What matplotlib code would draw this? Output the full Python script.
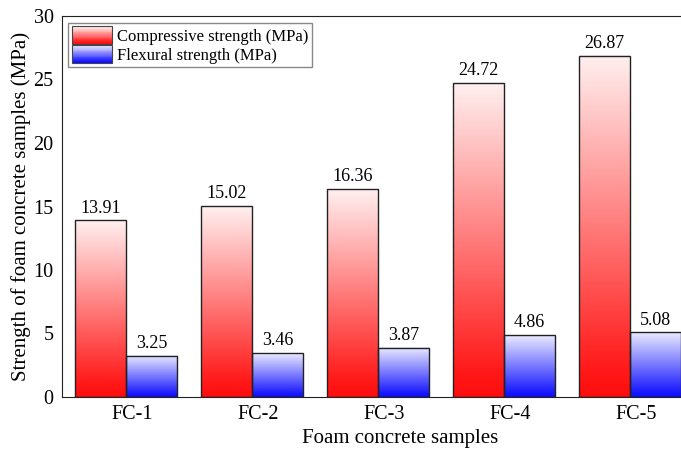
import numpy as np
import matplotlib
matplotlib.use("Agg")
import matplotlib.pyplot as plt
from matplotlib.patches import Rectangle
from matplotlib.legend_handler import HandlerBase
from matplotlib.colors import LinearSegmentedColormap

samples = ["FC-1", "FC-2", "FC-3", "FC-4", "FC-5"]
compressive = [13.91, 15.02, 16.36, 24.72, 26.87]
flexural = [3.25, 3.46, 3.87, 4.86, 5.08]

plt.rcParams['font.family'] = ['Liberation Serif', 'DejaVu Serif']

red_cmap = LinearSegmentedColormap.from_list(
    "r", [(0, (1, 0.05, 0.05)), (0.08, (1, 0.1, 0.1)), (1, (1, 0.94, 0.94))])
blue_cmap = LinearSegmentedColormap.from_list(
    "b", [(0, (0.05, 0.05, 1)), (0.08, (0.1, 0.1, 1)), (1, (0.92, 0.92, 1))])

fig = plt.figure(figsize=(6.81, 4.49), dpi=100)
ax = fig.add_axes([62 / 681, 52 / 449, (693 - 62) / 681, (397 - 16) / 449])

w = 0.405
grad = np.linspace(0, 1, 256).reshape(-1, 1)


def grad_bar(x0, h, cmap):
    ax.imshow(grad, cmap=cmap, extent=[x0, x0 + w, 0, h], origin='lower',
              aspect='auto', zorder=2, interpolation='bilinear')
    ax.add_patch(Rectangle((x0, 0), w, h, fill=False, edgecolor='#222222',
                           linewidth=1.0, zorder=3))


x = np.arange(len(samples))
for i in range(len(samples)):
    grad_bar(x[i] - w, compressive[i], red_cmap)
    grad_bar(x[i], flexural[i], blue_cmap)
    ax.text(x[i] - w / 2, compressive[i] + 0.3, f"{compressive[i]:.2f}",
            ha='center', va='bottom', fontsize=13)
    ax.text(x[i] + w / 2, flexural[i] + 0.3, f"{flexural[i]:.2f}",
            ha='center', va='bottom', fontsize=13)

ax.set_xlim(-0.508, 4.5)
ax.set_ylim(0, 30)
ax.set_xticks(x + 0.05)
ax.set_xticklabels(samples)
ax.set_yticks(range(0, 31, 5))
ax.tick_params(length=0, labelsize=14.5, pad=6)
ax.set_xlabel("Foam concrete samples", fontsize=15)
ax.xaxis.set_label_coords(0.536, -0.085)
ax.set_ylabel("Strength of foam concrete samples (MPa)", fontsize=15, labelpad=2)
for s in ax.spines.values():
    s.set_color('#222222')


class GradHandler(HandlerBase):
    def __init__(self, cmap):
        super().__init__()
        self.cmap = cmap

    def create_artists(self, legend, orig_handle, xdescent, ydescent,
                       width, height, fontsize, trans):
        arts = []
        n = 20
        for k in range(n):
            arts.append(Rectangle((-xdescent, -ydescent + height * k / n), width,
                                  height / n + 0.2, facecolor=self.cmap(k / (n - 1)),
                                  edgecolor='none', transform=trans))
        arts.append(Rectangle((-xdescent, -ydescent), width, height, fill=False,
                              edgecolor='#444444', linewidth=0.8, transform=trans))
        return arts


h1 = Rectangle((0, 0), 1, 1)
h2 = Rectangle((0, 0), 1, 1)
leg = ax.legend([h1, h2], ["Compressive strength (MPa)", "Flexural strength (MPa)"],
                handler_map={h1: GradHandler(red_cmap), h2: GradHandler(blue_cmap)},
                loc='upper left', bbox_to_anchor=(0.005, 0.99), fontsize=12,
                fancybox=False, edgecolor='#888888', framealpha=1,
                handlelength=2.4, handleheight=1.2, handletextpad=0.3,
                borderpad=0.2, labelspacing=0.05, borderaxespad=0.2)
leg.get_frame().set_linewidth(1.0)

fig.savefig("out.png", dpi=100)
